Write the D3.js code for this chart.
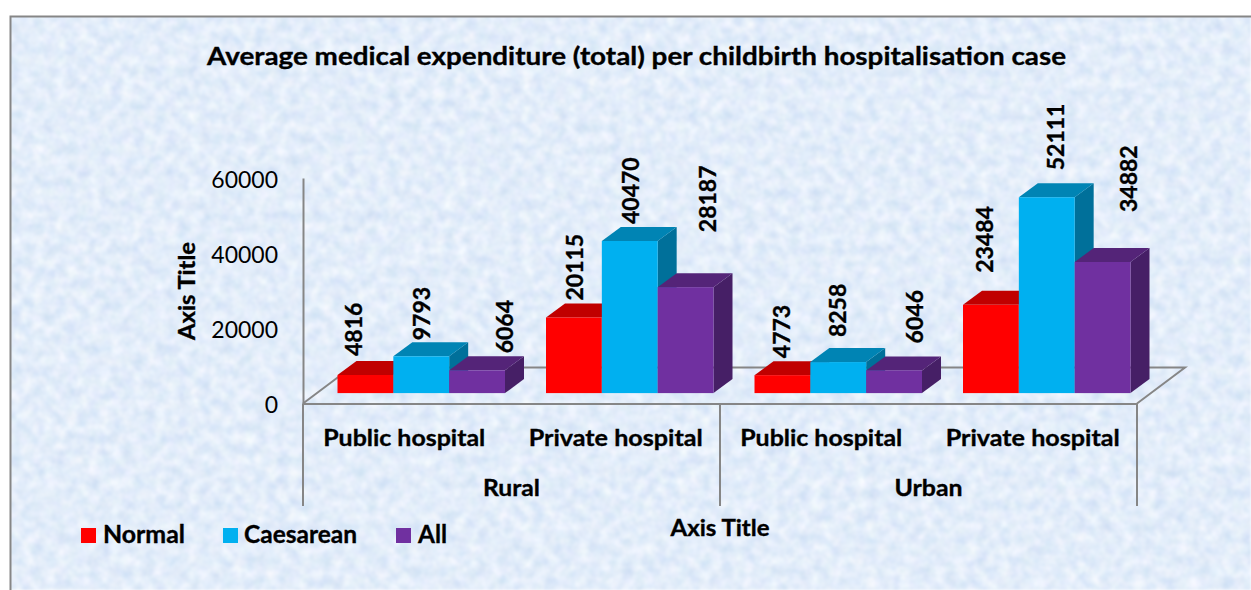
<!DOCTYPE html>
<html><head><meta charset="utf-8">
<script src="https://cdn.jsdelivr.net/npm/d3@7"></script>
<style>html,body{margin:0;padding:0;background:#fff;overflow:hidden}svg{display:block}text{font-family:Lato,"Open Sans",sans-serif;fill:#000}text[font-weight="700"]{stroke:#000;stroke-width:.35px}</style>
</head><body><div id="c"></div>
<script>
const areas = ["Rural", "Urban"];
const categories = ["Public hospital", "Private hospital", "Public hospital", "Private hospital"];
const seriesNames = ["Normal", "Caesarean", "All"];
const normal = [4816, 20115, 4773, 23484];
const caesarean = [9793, 40470, 8258, 52111];
const all = [6064, 28187, 6046, 34882];
const yTicks = [0, 20000, 40000, 60000];
const titleText = "Average medical expenditure (total) per childbirth hospitalisation case";

// layout (not data)
const W = 1251, H = 590;
const front = ["#FF0000", "#00B0F0", "#7030A0"];
const top3d = ["#C00000", "#0084B4", "#542478"];
const side = ["#BF0000", "#00709A", "#461F66"];
const labelGap = [[19, 17, 17, 32], [16, 17, 25, 27], [17, 55, 27, 50]];
const labelDx = [[-11, 1, 0, -6], [1, 1, 0, 9], [28, 22, 21, 26]];
const catNudge = [-3, 0, -3, 0];
const floorDepth = {dx: 48, dy: -36}, barDepth = {dx: 19, dy: -14}, barShift = {dx: 34, dy: -10.4};
const series = [normal, caesarean, all];
const fit = (sel, len) => sel.attr("textLength", len).attr("lengthAdjust", "spacingAndGlyphs");

const svg = d3.select("#c").append("svg").attr("width", W).attr("height", H);
const defs = svg.append("defs");
const f = defs.append("filter").attr("id", "tex").attr("x", 0).attr("y", 0).attr("width", 1).attr("height", 1)
  .attr("color-interpolation-filters", "sRGB");
f.append("feTurbulence").attr("type", "fractalNoise").attr("baseFrequency", 0.09).attr("numOctaves", 4).attr("seed", 7);
f.append("feColorMatrix").attr("type", "matrix").attr("values",
  "0.20 0 0 0 0.79  0.13 0.03 0 0 0.85  0.05 0 0.03 0 0.94  0 0 0 0 1");
f.append("feGaussianBlur").attr("stdDeviation", 0.8);

svg.append("rect").attr("x", 10).attr("y", 16).attr("width", W - 10).attr("height", H - 16).attr("filter", "url(#tex)");
svg.append("path").attr("d", `M10.5,${H}V16.5H${W}`).attr("fill", "none").attr("stroke", "#868686").attr("stroke-width", 2);

const y = d3.scaleLinear().domain([0, 60000]).range([403.5, 178]);
const x0 = d3.scaleBand().domain(d3.range(categories.length)).range([303, 1137]);
const x1 = d3.scaleBand().domain(d3.range(series.length)).range([0, 167.5]);
const x0Area = d3.scaleBand().domain(areas).range([303, 1137]);
const grey = "#868686";

// floor
const fx0 = 303, fx1 = 1137, fy = y(0);
svg.append("path")
  .attr("d", `M${fx0},${fy}L${fx0 + floorDepth.dx},${fy + floorDepth.dy}H${fx1 + floorDepth.dx}L${fx1},${fy}`)
  .attr("fill", "none").attr("stroke", grey).attr("stroke-width", 2);

// value axis
const gy = svg.append("g").attr("transform", "translate(303,0)")
  .call(d3.axisLeft(y).tickValues(yTicks).tickSize(0).tickPadding(25).tickFormat(d3.format("d")));
gy.select(".domain").attr("stroke", grey).attr("stroke-width", 2);
gy.selectAll("text").attr("font-size", 23).attr("font-weight", 400).attr("y", 2);

// category axis
const catLen = [162, 174, 162, 174];
const gx = svg.append("g").attr("transform", `translate(0,${fy})`)
  .call(d3.axisBottom(x0).tickSize(0).tickPadding(26).tickFormat(i => categories[i]));
gx.select(".domain").attr("stroke", grey).attr("stroke-width", 2);
gx.selectAll("text").attr("font-size", 23).attr("font-weight", 700)
  .attr("dx", (d, i) => catNudge[i])
  .attr("textLength", (d, i) => catLen[i]).attr("lengthAdjust", "spacingAndGlyphs");

// multi-level separators
svg.append("g").selectAll("line").data([303, 720, 1137]).join("line")
  .attr("x1", d => d).attr("x2", d => d).attr("y1", fy).attr("y2", 506)
  .attr("stroke", grey).attr("stroke-width", 2);
const areaLen = [57, 68];
svg.append("g").selectAll("text").data(areas).join("text")
  .attr("x", d => x0Area(d) + x0Area.bandwidth() / 2).attr("y", 496)
  .attr("text-anchor", "middle").attr("font-size", 23).attr("font-weight", 700).text(d => d)
  .attr("textLength", (d, i) => areaLen[i]).attr("lengthAdjust", "spacingAndGlyphs");

// bars
const bx = (c, s) => x0(c) + x0.bandwidth() / 2 + barShift.dx - 83.75 - 20 + x1(s);
series.forEach((vals, s) => {
  const g = svg.append("g");
  vals.forEach((v, c) => {
    const l = bx(c, s), r = l + x1.bandwidth();
    const b = y(0) + barShift.dy, t = y(v) + barShift.dy;
    const d = barDepth;
    g.append("path").attr("fill", side[s])
      .attr("d", `M${r},${t}L${r + d.dx},${t + d.dy}V${b + d.dy}L${r},${b}Z`);
    g.append("path").attr("fill", top3d[s])
      .attr("d", `M${l},${t}L${l + d.dx},${t + d.dy}H${r + d.dx}L${r},${t}Z`);
    g.append("rect").attr("fill", front[s]).attr("x", l).attr("y", t).attr("width", r - l).attr("height", b - t);
  });
});
// data labels
series.forEach((vals, s) => vals.forEach((v, c) => {
  const cx = bx(c, s) + x1.bandwidth() / 2 + labelDx[s][c];
  const yy = y(v) + barShift.dy - labelGap[s][c];
  svg.append("text").attr("transform", `translate(${cx + 8},${yy}) rotate(-90)`)
    .attr("font-size", 23).attr("font-weight", 700).text(v);
}));

// titles
fit(svg.append("text").attr("x", 636.5).attr("y", 65).attr("text-anchor", "middle")
  .attr("font-size", 25).attr("font-weight", 700).text(titleText), 859);
fit(svg.append("text").attr("transform", "translate(195,291) rotate(-90)").attr("text-anchor", "middle")
  .attr("font-size", 22).attr("font-weight", 700).text("Axis Title"), 98);
fit(svg.append("text").attr("x", 720).attr("y", 536).attr("text-anchor", "middle")
  .attr("font-size", 22).attr("font-weight", 700).text("Axis Title"), 99);

// legend
const legSq = [81, 223, 396], legTx = [103, 244, 418], legLen = [82, 113, 29];
const lg = svg.append("g").selectAll("g").data(seriesNames).join("g");
lg.append("rect").attr("x", (d, i) => legSq[i]).attr("y", 528).attr("width", 15).attr("height", 15).attr("fill", (d, i) => front[i]);
lg.append("text").attr("x", (d, i) => legTx[i]).attr("y", 543).attr("font-size", 24).attr("font-weight", 700).text(d => d)
  .attr("textLength", (d, i) => legLen[i]).attr("lengthAdjust", "spacingAndGlyphs");
</script></body></html>
